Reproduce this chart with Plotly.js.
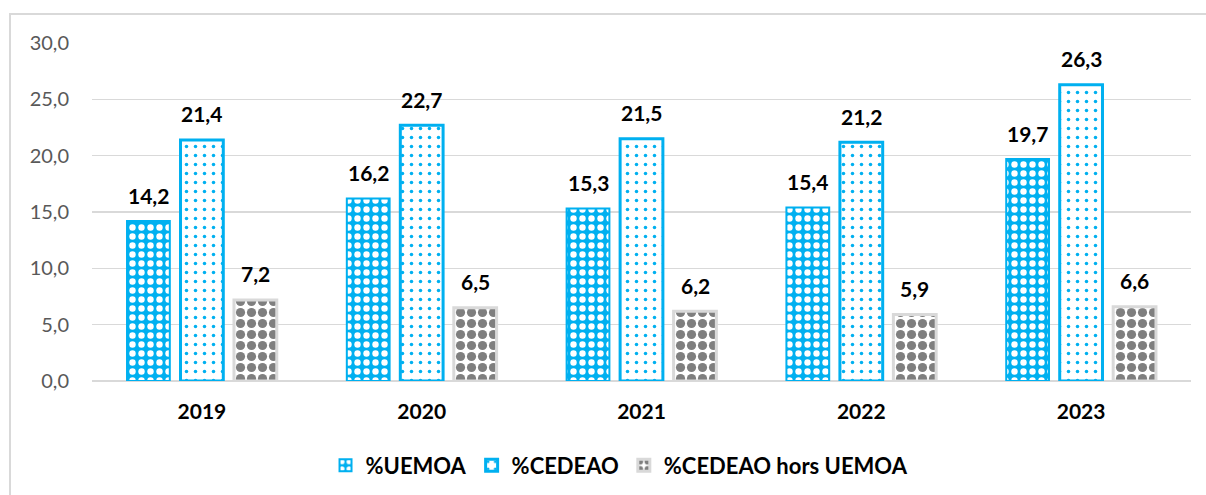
<!DOCTYPE html>
<html>
<head>
<meta charset="utf-8">
<script src="https://cdn.plot.ly/plotly-3.0.1.min.js"></script>
<style>
  html, body { margin: 0; padding: 0; background: #fff; overflow: hidden; }
  #chart { position: absolute; left: 0; top: 0; width: 1206px; height: 495px; }
  #frame { position: absolute; left: 9px; top: 13px; width: 1210px; height: 520px;
           border: 2px solid #d9d9d9; pointer-events: none; box-sizing: border-box; }
</style>
</head>
<body>
<div id="chart"></div>
<div id="frame"></div>
<script>
const years = ["2019", "2020", "2021", "2022", "2023"];
const seriesNames = ["%UEMOA", "%CEDEAO", "%CEDEAO hors UEMOA"];
const uemoa = [14.2, 16.2, 15.3, 15.4, 19.7];
const cedeao = [21.4, 22.7, 21.5, 21.2, 26.3];
const horsUemoa = [7.2, 6.5, 6.2, 5.9, 6.6];
const yTicks = [0, 5, 10, 15, 20, 25, 30];

const BLUE = "#00b0f0";
const GRAY = "#7f7f7f";
const LIGHT = "#d9d9d9";
const FONT = "Lato, 'Open Sans', sans-serif";

const allSeries = [uemoa, cedeao, horsUemoa];
const styles = [
  { pattern: { shape: ".", bgcolor: BLUE, fgcolor: "#ffffff", size: 9, solidity: 0.4, fillmode: "replace" },
    line: { color: BLUE, width: 2 } },
  { pattern: { shape: ".", bgcolor: "#ffffff", fgcolor: BLUE, size: 9, solidity: 0.12, fillmode: "replace" },
    line: { color: BLUE, width: 3 } },
  { pattern: { shape: ".", bgcolor: "#ffffff", fgcolor: GRAY, size: 11, solidity: 0.55, fillmode: "replace" },
    line: { color: LIGHT, width: 3 } }
];

const traces = allSeries.map((vals, i) => ({
  type: "bar",
  name: seriesNames[i],
  x: years,
  y: vals,
  marker: { color: styles[i].pattern.bgcolor, pattern: styles[i].pattern, line: styles[i].line },
  hoverinfo: "skip"
}));

const shifts = [-53.5, 0, 53.5];
const annotations = [];
allSeries.forEach((vals, i) => {
  vals.forEach((v, j) => {
    annotations.push({
      x: j, y: v, xref: "x", yref: "y",
      text: v.toFixed(1).replace(".", ","),
      showarrow: false, xshift: shifts[i], yshift: 26, yanchor: "middle",
      font: { family: FONT, size: 21, color: "#000", weight: "bold" }
    });
  });
});

const layout = {
  width: 1206, height: 495,
  margin: { l: 92, r: 15, t: 43, b: 114, autoexpand: false },
  paper_bgcolor: "rgba(0,0,0,0)",
  plot_bgcolor: "#fff",
  barmode: "group",
  bargap: 0.27,
  bargroupgap: 0.2,
  separators: ",.",
  showlegend: true,
  legend: {
    orientation: "h", x: 0.48, xanchor: "center", y: -0.25, yanchor: "middle",
    font: { family: FONT, size: 22, color: "#000", weight: "bold" },
    itemwidth: 30, traceorder: "normal"
  },
  xaxis: {
    type: "category", range: [-0.5, 4.5], autorange: false,
    showgrid: false, showline: false, zeroline: false, ticks: "",
    tickfont: { family: FONT, size: 21, color: "#000", weight: "bold" },
    ticklabelstandoff: 16
  },
  yaxis: {
    range: [0, 30], autorange: false, tickvals: yTicks, tickformat: ".1f",
    showgrid: true, gridcolor: LIGHT, gridwidth: 1.5,
    zeroline: true, zerolinecolor: LIGHT, zerolinewidth: 1.5,
    showline: false, ticks: "",
    tickfont: { family: FONT, size: 20, color: "#595959" },
    ticklabelstandoff: 22
  },
  annotations: annotations
};

Plotly.newPlot("chart", traces, layout, { displayModeBar: false, staticPlot: true });
</script>
</body>
</html>
